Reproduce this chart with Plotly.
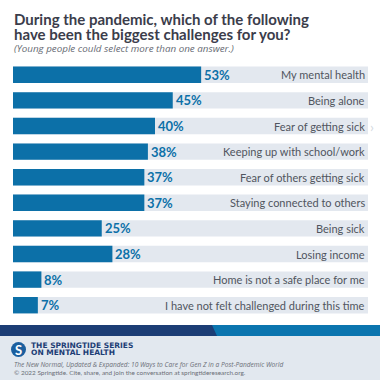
import plotly.graph_objects as go

categories = [
    "My mental health",
    "Being alone",
    "Fear of getting sick",
    "Keeping up with school/work",
    "Fear of others getting sick",
    "Staying connected to others",
    "Being sick",
    "Losing income",
    "Home is not a safe place for me",
    "I have not felt challenged during this time",
]
values = [53, 45, 40, 38, 37, 37, 25, 28, 8, 7]
track_values = [100] * len(categories)

title_line1 = "During the pandemic, which of the following"
title_line2 = "have been the biggest challenges for you?"
subtitle_text = "(Young people could select more than one answer.)"
brand_line1 = "THE SPRINGTIDE SERIES"
brand_line2 = "ON MENTAL HEALTH"
source_line1 = "The New Normal, Updated & Expanded: 10 Ways to Care for Gen Z in a Post-Pandemic World"
source_line2 = "© 2022 Springtide. Cite, share, and join the conversation at springtideresearch.org."

W, H = 380, 380
L, R, T, B = 13, 12, 62, 62
PW, PH = W - L - R, H - T - B


def px(x):
    return (x - L) / PW


def py(y):
    return (H - B - y) / PH


BLUE = "#0c70a8"
TRACK = "#e3e8ef"
NAVY = "#1c3d75"
GRAY = "#50555e"

fig = go.Figure()
fig.add_trace(go.Bar(y=categories, x=track_values, orientation="h",
                     marker=dict(color=TRACK, line=dict(width=0)),
                     width=0.64, hoverinfo="skip", showlegend=False))
fig.add_trace(go.Bar(y=categories, x=values, orientation="h",
                     marker=dict(color=BLUE, line=dict(width=0)),
                     width=0.64, showlegend=False))

annotations = []
for c, v in zip(categories, values):
    annotations.append(dict(x=v, y=c, xref="x", yref="y", text=f"<b>{v}%</b>",
                            showarrow=False, xanchor="left", xshift=1,
                            font=dict(family="Lato", size=13, color=BLUE)))
    annotations.append(dict(x=100, y=c, xref="x", yref="y", text=c,
                            showarrow=False, xanchor="right", xshift=-1,
                            font=dict(family="Lato", size=11, color=GRAY)))

# chevron next to third row
annotations.append(dict(x=px(372), y=categories[2], xref="paper", yref="y", text="›",
                        showarrow=False, xanchor="center",
                        font=dict(family="Lato", size=14, color="#d3d9e0")))

annotations += [
    dict(x=px(12), y=py(18.5), xref="paper", yref="paper", text=f"<b>{title_line1}</b>",
         showarrow=False, xanchor="left", yanchor="middle", align="left",
         font=dict(family="Lato", size=15, color="#3b3d4b")),
    dict(x=px(12), y=py(34), xref="paper", yref="paper", text=f"<b>{title_line2}</b>",
         showarrow=False, xanchor="left", yanchor="middle", align="left",
         font=dict(family="Lato", size=15, color="#3b3d4b")),
    dict(x=px(12), y=py(48), xref="paper", yref="paper", text=f"<i>{subtitle_text}</i>",
         showarrow=False, xanchor="left", yanchor="middle", align="left",
         font=dict(family="Open Sans", size=9.8, color="#666a73")),
    dict(x=px(18.5), y=py(349.5), xref="paper", yref="paper", text="<b>S</b>",
         showarrow=False, xanchor="center", yanchor="middle",
         font=dict(family="Lato", size=13, color="white")),
    dict(x=px(29), y=py(345.5), xref="paper", yref="paper", text=f"<b>{brand_line1}</b>",
         showarrow=False, xanchor="left", yanchor="middle",
         font=dict(family="DejaVu Sans", size=7.5, color=NAVY)),
    dict(x=px(29), y=py(352.5), xref="paper", yref="paper", text=f"<b>{brand_line2}</b>",
         showarrow=False, xanchor="left", yanchor="middle",
         font=dict(family="DejaVu Sans", size=7.5, color=NAVY)),
    dict(x=px(12), y=py(364), xref="paper", yref="paper", text=f"<i>{source_line1}</i>",
         showarrow=False, xanchor="left", yanchor="middle",
         font=dict(family="Open Sans", size=6.6, color="#6a6e76")),
    dict(x=px(12), y=py(372), xref="paper", yref="paper", text=source_line2,
         showarrow=False, xanchor="left", yanchor="middle",
         font=dict(family="Lato", size=6.4, color="#6a6e76")),
]

shapes = [
    dict(type="rect", xref="paper", yref="paper", x0=px(0), x1=px(W), y0=py(336), y1=py(H),
         fillcolor="#e2e8ef", line=dict(width=0), layer="below"),
    dict(type="rect", xref="paper", yref="paper", x0=px(0), x1=px(W), y0=py(325), y1=py(336),
         fillcolor="#0b75af", line=dict(width=0), layer="below"),
    dict(type="path", xref="paper", yref="paper",
         path=f"M {px(0)},{py(325)} L {px(212)},{py(325)} L {px(217)},{py(336)} L {px(0)},{py(336)} Z",
         fillcolor=NAVY, line=dict(width=0), layer="below"),
    dict(type="circle", xref="paper", yref="paper", x0=px(11), x1=px(26), y0=py(342), y1=py(357),
         fillcolor="#1b5f9f", line=dict(width=0), layer="below"),
]

fig.update_layout(
    width=W, height=H,
    margin=dict(l=L, r=R, t=T, b=B),
    paper_bgcolor="white", plot_bgcolor="white",
    barmode="overlay",
    xaxis=dict(range=[0, 100], visible=False, fixedrange=True),
    yaxis=dict(autorange="reversed", visible=False, fixedrange=True),
    annotations=annotations,
    shapes=shapes,
    showlegend=False,
)

fig.write_html("out.html", config={"displayModeBar": False},
               post_script="document.body.style.margin='0';document.body.style.overflow='hidden';")
